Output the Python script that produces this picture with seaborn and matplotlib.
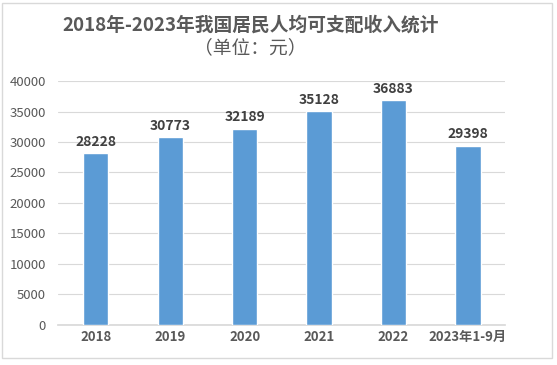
import matplotlib
matplotlib.use("Agg")
import matplotlib.pyplot as plt
import seaborn as sns
import pandas as pd

# data
years = ['2018', '2019', '2020', '2021', '2022', '2023年1-9月']
income = [28228, 30773, 32189, 35128, 36883, 29398]

df = pd.DataFrame({'year': years, 'income': income})

sns.set_theme(style='white')
plt.rcParams['font.family'] = ['Noto Sans CJK SC', 'DejaVu Sans']

text_color = '#595959'
bar_color = '#5B9BD5'

fig = plt.figure(figsize=(5.57, 3.65), dpi=100)
ax = fig.add_axes([0.105, 0.11, 0.802, 0.668])

sns.barplot(data=df, x='year', y='income', color=bar_color, width=0.34,
            saturation=1, ax=ax, zorder=3)

ax.set_ylim(0, 40000)
ax.set_yticks(range(0, 40001, 5000))
ax.yaxis.grid(True, color='#D9D9D9', linewidth=0.8, zorder=0)
ax.set_xlabel('')
ax.set_ylabel('')
for side in ['top', 'right', 'left']:
    ax.spines[side].set_visible(False)
ax.spines['bottom'].set_color('#D9D9D9')
ax.tick_params(axis='both', length=0, labelcolor=text_color, labelsize=9.5)
ax.tick_params(axis='y', pad=9)
for lbl in ax.get_xticklabels():
    lbl.set_fontweight('bold')

for container in ax.containers:
    ax.bar_label(container, fmt='%d', padding=3, fontsize=10,
                 fontweight='bold', color='#404040')

fig.text(0.45, 0.932, '2018年-2023年我国居民人均可支配收入统计', ha='center',
         va='center', fontsize=13.5, fontweight='bold', color=text_color)
fig.text(0.45, 0.868, '（单位：元）', ha='center', va='center',
         fontsize=13.5, color=text_color)

# light frame around the whole chart
fig.patches.append(plt.Rectangle((0.004, 0.02), 0.987, 0.972, fill=False,
                                 edgecolor='#D9D9D9', linewidth=1,
                                 transform=fig.transFigure, figure=fig))

fig.savefig('out.png', dpi=100)
